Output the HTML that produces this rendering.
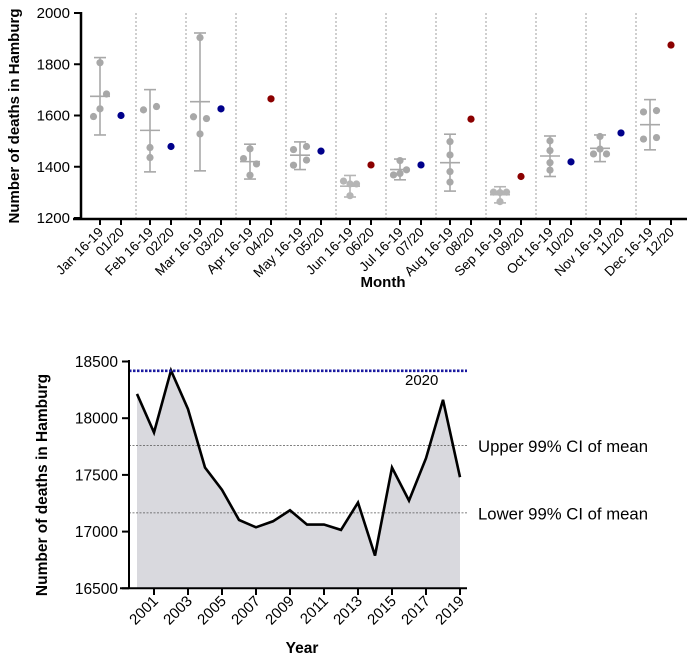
<!DOCTYPE html>
<html><head><meta charset="utf-8">
<style>
html,body{margin:0;padding:0;background:#fff;}
svg{display:block;font-family:"Liberation Sans",Arial,sans-serif;}
</style></head>
<body>
<svg id="c" width="694" height="661" viewBox="0 0 694 661"></svg>
<script>
// ---- Top chart data ----
const months = ["Jan","Feb","Mar","Apr","May","Jun","Jul","Aug","Sep","Oct","Nov","Dec"];
const hist = [
 [1596,1806,1684,1626],[1622,1635,1475,1436],[1595,1904,1588,1528],[1432,1470,1411,1367],
 [1467,1479,1406,1426],[1344,1333,1333,1287],[1368,1424,1388,1374],[1498,1446,1381,1340],
 [1301,1299,1301,1264],[1501,1463,1416,1387],[1450,1469,1450,1518],[1614,1619,1508,1514]];
const histMean = [1675,1542,1654,1420,1445,1324,1389,1416,1291,1442,1472,1564];
const histHi = [1826,1701,1922,1488,1497,1366,1430,1527,1322,1520,1524,1662];
const histLo = [1524,1380,1384,1352,1389,1282,1349,1305,1259,1362,1420,1466];
const v2020 = [1600,1479,1626,1665,1461,1407,1407,1586,1362,1419,1532,1875];
const above = [false,false,false,true,false,true,false,true,true,false,false,true];
const topTicks = [1200,1400,1600,1800,2000];
// ---- Bottom chart data ----
const years = [2000,2001,2002,2003,2004,2005,2006,2007,2008,2009,2010,2011,2012,2013,2014,2015,2016,2017,2018,2019];
const deaths = [18214,17874,18421,18080,17565,17368,17103,17038,17091,17188,17062,17062,17015,17256,16788,17565,17273,17647,18162,17480];
const yearTicks = [2001,2003,2005,2007,2009,2011,2013,2015,2017,2019];
const botTicks = [16500,17000,17500,18000,18500];
const ref2020 = 18418, upperCI = 17759, lowerCI = 17165;

const NS="http://www.w3.org/2000/svg", svg=document.getElementById('c');
function mk(tag,attrs,parent){const e=document.createElementNS(NS,tag);for(const k in attrs)e.setAttribute(k,attrs[k]);(parent||svg).appendChild(e);return e;}

// top axes
const ty=v=>13+(2000-v)*205/800;
const tx=(i,j)=>100+50*i+21*j;
for(let i=0;i<11;i++){const l=mk('line',{x1:136+50*i,x2:136+50*i,y1:13,y2:218,stroke:'#888','stroke-width':0.8,'stroke-dasharray':'2,2'});
}
let a=mk('line',{x1:81,x2:81,y1:12,y2:220,stroke:'#000','stroke-width':2.5});
a=mk('line',{x1:73,x2:687,y1:219,y2:219,stroke:'#000','stroke-width':2.5});
topTicks.forEach(v=>{mk('line',{x1:74,x2:81,y1:ty(v),y2:ty(v),stroke:'#000','stroke-width':2});
 const t=mk('text',{x:70,y:ty(v)+5,'text-anchor':'end','font-size':15});t.textContent=v;
 });
months.forEach((m,i)=>{
 [0,1].forEach(j=>{const x=tx(i,j);mk('line',{x1:x,x2:x,y1:219,y2:225,stroke:'#000','stroke-width':2});
  const t=mk('text',{x:0,y:0,'text-anchor':'end','font-size':13.5,transform:`translate(${x+4},${233}) rotate(-45)`});
  t.textContent=j?String(i+1).padStart(2,'0')+'/20':m+' 16-19';
  });
 const x=tx(i,0), col=(i==5||i==8)?'#b5b5b5':'#a8a8a8';
 const g=mk('g',{stroke:col,'stroke-width':1.6});
 mk('line',{x1:x,x2:x,y1:ty(histHi[i]),y2:ty(histLo[i])},g);
 mk('line',{x1:x-6,x2:x+6,y1:ty(histHi[i]),y2:ty(histHi[i])},g);
 mk('line',{x1:x-6,x2:x+6,y1:ty(histLo[i]),y2:ty(histLo[i])},g);
 mk('line',{x1:x-10,x2:x+10,y1:ty(histMean[i]),y2:ty(histMean[i])},g);
 hist[i].forEach((v,k)=>{
  let dx=[ -6.5,0,6.5,0][k];
  if(i==1||i==4){dx=[-6.5,6.5,0,0][k]; if(i==4)dx=[-6.5,6.5,-6.5,6.5][k];}
  if(i==7||i==9)dx=0;
  if(i==11)dx=[-6.5,6.5,-6.5,6.5][k];
  if(i==10)dx=[-6.5,0,6.5,0][k];
  const c=mk('circle',{cx:x+dx,cy:ty(v),r:3.6,fill:col});
  });
 const c=mk('circle',{cx:tx(i,1),cy:ty(v2020[i]),r:3.6,fill:above[i]?'#8b0000':'#00008b'});
 
});
let t=mk('text',{x:0,y:0,'text-anchor':'middle','font-size':15,'font-weight':'bold',transform:'translate(19,116) rotate(-90)'});
t.textContent='Number of deaths in Hamburg';
t=mk('text',{x:383,y:287,'text-anchor':'middle','font-size':15,'font-weight':'bold'});
t.textContent='Month';

// bottom chart
const by=v=>588.3-(v-16500)*56.7/500;
const bx=y=>137+(y-2000)*17;
let d='M'+bx(years[0])+','+by(16500);
years.forEach((y,i)=>d+=' L'+bx(y)+','+by(deaths[i]));
d+=' L'+bx(years[years.length-1])+','+by(16500)+' Z';
let p=mk('path',{d:d,fill:'#d9d9de'});
[[upperCI,'upper-ci-line'],[lowerCI,'lower-ci-line']].forEach(([v,n])=>{const l=mk('line',{x1:129,x2:467,y1:by(v),y2:by(v),stroke:'#555','stroke-width':0.8,'stroke-dasharray':'2,1.5'});
 });
p=mk('polyline',{points:years.map((y,i)=>bx(y)+','+by(deaths[i])).join(' '),fill:'none',stroke:'#000','stroke-width':2.6,'stroke-linejoin':'miter'});

a=mk('line',{x1:129,x2:467,y1:by(ref2020),y2:by(ref2020),stroke:'#1a1aa0','stroke-width':2.6,'stroke-dasharray':'2.5,1.5'});

a=mk('line',{x1:129,x2:129,y1:360,y2:589,stroke:'#000','stroke-width':2});
a=mk('line',{x1:120,x2:467,y1:588.3,y2:588.3,stroke:'#000','stroke-width':2});
botTicks.forEach(v=>{mk('line',{x1:122,x2:129,y1:by(v),y2:by(v),stroke:'#000','stroke-width':2});
 const t=mk('text',{x:118,y:by(v)+5.5,'text-anchor':'end','font-size':15.5});t.textContent=v;
 });
yearTicks.forEach(y=>{const x=bx(y);mk('line',{x1:x,x2:x,y1:588,y2:595,stroke:'#000','stroke-width':2});
 const t=mk('text',{x:0,y:0,'text-anchor':'end','font-size':15,transform:`translate(${x+5},${602}) rotate(-45)`});t.textContent=y;
 });
t=mk('text',{x:0,y:0,'text-anchor':'middle','font-size':15.5,'font-weight':'bold',transform:'translate(47,485) rotate(-90)'});
t.textContent='Number of deaths in Hamburg';
t=mk('text',{x:302,y:653,'text-anchor':'middle','font-size':15.5,'font-weight':'bold'});
t.textContent='Year';
t=mk('text',{x:405,y:385,'font-size':15});t.textContent='2020';
t=mk('text',{x:478,y:by(upperCI)+6.5,'font-size':17,textLength:170,lengthAdjust:'spacingAndGlyphs'});t.textContent='Upper 99% CI of mean';
t=mk('text',{x:478,y:by(lowerCI)+6.5,'font-size':17,textLength:170,lengthAdjust:'spacingAndGlyphs'});t.textContent='Lower 99% CI of mean';
</script>
</body></html>
